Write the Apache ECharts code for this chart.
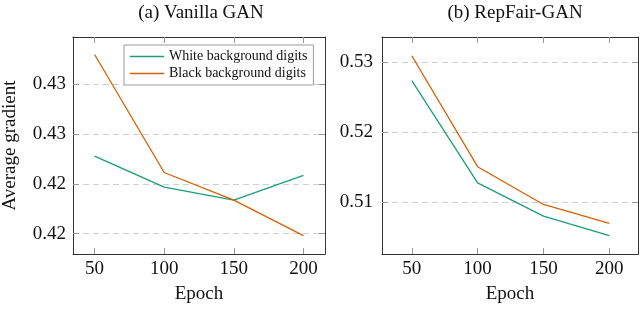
<!DOCTYPE html>
<html>
<head>
<meta charset="utf-8">
<script src="https://cdn.jsdelivr.net/npm/echarts@6/dist/echarts.min.js"></script>
<style>html,body{margin:0;padding:0;background:#fff;}#c{width:640px;height:309px;}</style>
</head>
<body>
<div id="c"></div>
<script>
var epochs = [50, 100, 150, 200];
var seriesNames = ['White background digits', 'Black background digits'];
var vanillaWhite = [0.42389, 0.42234, 0.42168, 0.42293];
var vanillaBlack = [0.42899, 0.42307, 0.42168, 0.41990];
var repfairWhite = [0.52736, 0.51272, 0.50796, 0.50518];
var repfairBlack = [0.53092, 0.51504, 0.50963, 0.50694];
var xTicks = [50, 100, 150, 200];
var yTicksA = [0.42, 0.4225, 0.425, 0.4275];
var yTickLabelsA = ['0.42', '0.42', '0.43', '0.43'];
var yTicksB = [0.51, 0.52, 0.53];
var yTickLabelsB = ['0.51', '0.52', '0.53'];
var titles = ['(a) Vanilla GAN', '(b) RepFair-GAN'];
var xName = 'Epoch';
var yName = 'Average gradient';

var FONT = 'Liberation Serif';
var GREEN = '#1b9e77', ORANGE = '#d95f02';
function border() { return {show: true, onZero: false, lineStyle: {color: '#333', width: 1}}; }
function tick(vals) { return {show: true, inside: true, length: 6, customValues: vals, lineStyle: {color: '#999', width: 1}}; }

function pair(arr) { return epochs.map(function (e, i) { return [e, arr[i]]; }); }
function labelFn(ticks, labels) {
  return function (v) {
    for (var i = 0; i < ticks.length; i++) if (Math.abs(ticks[i] - v) < 1e-9) return labels[i];
    return '';
  };
}

function xAxes(gi, min, max) {
  return [
    {type: 'value', gridIndex: gi, position: 'bottom', min: min, max: max,
     name: xName, nameLocation: 'middle', nameGap: 31,
     nameTextStyle: {fontFamily: FONT, fontSize: 19, color: '#111'},
     axisLine: border(), axisTick: tick(xTicks),
     axisLabel: {customValues: xTicks, fontFamily: FONT, fontSize: 19, color: '#111', margin: 6},
     splitLine: {show: false}},
    {type: 'value', gridIndex: gi, position: 'top', min: min, max: max,
     axisLine: border(), axisTick: tick(xTicks),
     axisLabel: {show: false}, splitLine: {show: false}}
  ];
}
function yAxes(gi, min, max, ticks, labels, withName, margin) {
  var a = {type: 'value', gridIndex: gi, position: 'left', min: min, max: max,
     axisLine: border(), axisTick: tick(ticks),
     axisLabel: {customValues: ticks, formatter: labelFn(ticks, labels), fontFamily: FONT, fontSize: 19, color: '#111', margin: margin},
     splitLine: {show: true, lineStyle: {color: '#cfcfcf', type: [6, 4], width: 1}}};
  if (withName) {
    a.name = yName; a.nameLocation = 'middle'; a.nameGap = 53; a.nameRotate = 90;
    a.nameTextStyle = {fontFamily: FONT, fontSize: 19, color: '#111'};
  }
  return [a,
    {type: 'value', gridIndex: gi, position: 'right', min: min, max: max,
     axisLine: border(), axisTick: tick(ticks),
     axisLabel: {show: false}, splitLine: {show: false}}];
}
function line(name, data, color, xi, yi) {
  return {name: name, type: 'line', data: pair(data), xAxisIndex: xi, yAxisIndex: yi,
    symbol: 'none', lineStyle: {color: color, width: 1.3}, itemStyle: {color: color}, animation: false};
}

var chart = echarts.init(document.getElementById('c'), null, {renderer: 'canvas'});
chart.setOption({
  animation: false,
  title: [
    {text: titles[0], left: 196, top: -1, textAlign: 'center', textStyle: {fontFamily: FONT, fontSize: 19, fontWeight: 'normal', color: '#111'}},
    {text: titles[1], left: 510, top: -1, textAlign: 'center', textStyle: {fontFamily: FONT, fontSize: 19, fontWeight: 'normal', color: '#111'}}
  ],
  grid: [
    {left: 68, top: 37, width: 257, height: 224},
    {left: 382, top: 37, width: 256, height: 224}
  ],
  legend: {
    data: seriesNames, orient: 'vertical', left: 124, top: 45, align: 'left',
    backgroundColor: '#fff', borderColor: '#999', borderWidth: 1, padding: [4, 6, 4, 6],
    itemGap: 2, itemWidth: 34, itemHeight: 1.4, icon: 'rect',
    textStyle: {fontFamily: FONT, fontSize: 14, color: '#111', lineHeight: 15}
  },
  xAxis: xAxes(0, 34.5, 215.5).concat(xAxes(1, 27.4, 221.8)),
  yAxis: yAxes(0, 0.41898, 0.42987, yTicksA, yTickLabelsA, true, 7)
    .concat(yAxes(1, 0.50254, 0.53361, yTicksB, yTickLabelsB, false, 9)),
  series: [
    line(seriesNames[0], vanillaWhite, GREEN, 0, 0),
    line(seriesNames[1], vanillaBlack, ORANGE, 0, 0),
    line(seriesNames[0], repfairWhite, GREEN, 2, 2),
    line(seriesNames[1], repfairBlack, ORANGE, 2, 2)
  ]
});
</script>
</body>
</html>
